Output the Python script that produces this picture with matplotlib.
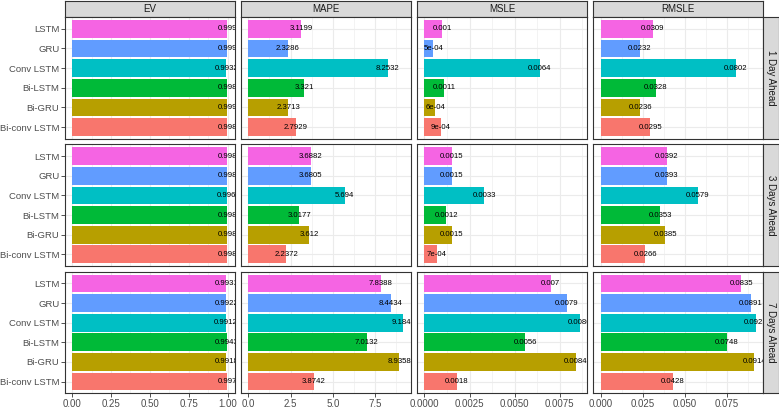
import matplotlib
matplotlib.use("Agg")
import matplotlib.pyplot as plt
from matplotlib.ticker import MultipleLocator, AutoMinorLocator, FormatStrFormatter

plt.rcParams['font.family'] = ['Liberation Sans', 'DejaVu Sans']

# factor order, bottom to top
models = ["Bi-conv LSTM", "Bi-GRU", "Bi-LSTM", "Conv LSTM", "GRU", "LSTM"]
colors = ["#F8766D", "#B79F00", "#00BA38", "#00BFC4", "#619CFF", "#F564E3"]
metrics = ["EV", "MAPE", "MSLE", "RMSLE"]
horizons = ["1 Day Ahead", "3 Days Ahead", "7 Days Ahead"]

# values in model order (Bi-conv LSTM, Bi-GRU, Bi-LSTM, Conv LSTM, GRU, LSTM)
ev_1 = [0.998, 0.999, 0.998, 0.9932, 0.999, 0.999]
mape_1 = [2.7929, 2.3713, 3.321, 8.2532, 2.3286, 3.1199]
msle_1 = [0.0009, 0.0006, 0.0011, 0.0064, 0.0005, 0.001]
rmsle_1 = [0.0295, 0.0236, 0.0328, 0.0802, 0.0232, 0.0309]

ev_3 = [0.998, 0.998, 0.998, 0.996, 0.998, 0.998]
mape_3 = [2.2372, 3.612, 3.0177, 5.694, 3.6805, 3.6882]
msle_3 = [0.0007, 0.0015, 0.0012, 0.0033, 0.0015, 0.0015]
rmsle_3 = [0.0266, 0.0385, 0.0353, 0.0579, 0.0393, 0.0392]

ev_7 = [0.997, 0.9918, 0.9943, 0.9912, 0.9922, 0.9931]
mape_7 = [3.8742, 8.9358, 7.0132, 9.1845, 8.4434, 7.8388]
msle_7 = [0.0018, 0.0084, 0.0056, 0.0086, 0.0079, 0.007]
rmsle_7 = [0.0428, 0.0914, 0.0748, 0.0921, 0.0891, 0.0835]

data = [[ev_1, mape_1, msle_1, rmsle_1],
        [ev_3, mape_3, msle_3, rmsle_3],
        [ev_7, mape_7, msle_7, rmsle_7]]

x_steps = [0.25, 2.5, 0.0025, 0.025]
x_fmt = ["%.2f", "%.1f", "%.4f", "%.3f"]


def r_label(v):
    # mimic R's number printing
    if v < 0.001:
        return "%.0e" % v
    return "%g" % round(v, 4)


W, H = 779, 408
fig = plt.figure(figsize=(W / 100, H / 100), dpi=100)

left0, pw, gapx = 64.5, 170.6, 5.5
top0, ph, gapy = 17.0, 121.8, 5.5
strip_h, strip_w = 16.5, 16.0

for j, m in enumerate(metrics):
    col_max = max(max(data[i][j]) for i in range(3))
    xlim = (-0.05 * col_max, 1.05 * col_max)
    x0 = left0 + j * (pw + gapx)
    # top strip
    sax = fig.add_axes([x0 / W, 1 - top0 / H, pw / W, strip_h / H])
    sax.set_facecolor("#D9D9D9")
    sax.set_xticks([])
    sax.set_yticks([])
    for s in sax.spines.values():
        s.set_color("#333333")
        s.set_linewidth(0.8)
    sax.text(0.5, 0.5, m, ha="center", va="center", fontsize=7, color="#1A1A1A",
             transform=sax.transAxes)

    for i, h in enumerate(horizons):
        y0 = top0 + i * (ph + gapy)
        ax = fig.add_axes([x0 / W, 1 - (y0 + ph) / H, pw / W, ph / H])
        vals = data[i][j]
        ax.set_axisbelow(True)
        ax.barh(range(len(models)), vals, height=0.9, color=colors, zorder=2)
        for k, v in enumerate(vals):
            ax.text(v, k, r_label(v), ha="center", va="center", fontsize=5.6,
                    color="black", zorder=3, clip_on=True)
        ax.set_xlim(*xlim)
        ax.set_ylim(-0.6, len(models) - 0.4)
        ax.xaxis.set_major_locator(MultipleLocator(x_steps[j]))
        ax.xaxis.set_minor_locator(AutoMinorLocator(2))
        ax.xaxis.set_major_formatter(FormatStrFormatter(x_fmt[j]))
        ax.set_yticks(range(len(models)))
        ax.grid(which="major", color="#EBEBEB", linewidth=0.8)
        ax.grid(which="minor", axis="x", color="#EBEBEB", linewidth=0.4)
        for s in ax.spines.values():
            s.set_color("#333333")
            s.set_linewidth(0.8)
        ax.tick_params(which="minor", length=0)
        ax.tick_params(which="major", length=2.75, width=0.6, color="#333333",
                       labelsize=7, labelcolor="#4D4D4D", pad=1.5)
        if j == 0:
            ax.set_yticklabels(models)
            ax.tick_params(axis="y", labelsize=6.8, pad=1.0)
        else:
            ax.tick_params(axis="y", length=0, labelleft=False)
        if i < 2:
            ax.tick_params(axis="x", length=0, labelbottom=False)

        if j == len(metrics) - 1:
            rax = fig.add_axes([(x0 + pw) / W, 1 - (y0 + ph) / H, strip_w / W, ph / H])
            rax.set_facecolor("#D9D9D9")
            rax.set_xticks([])
            rax.set_yticks([])
            for s in rax.spines.values():
                s.set_color("#333333")
                s.set_linewidth(0.8)
            rax.text(0.5, 0.5, h, ha="center", va="center", rotation=-90, fontsize=7,
                     color="#1A1A1A", transform=rax.transAxes)

plt.savefig("out.png", dpi=100)
plt.close()
